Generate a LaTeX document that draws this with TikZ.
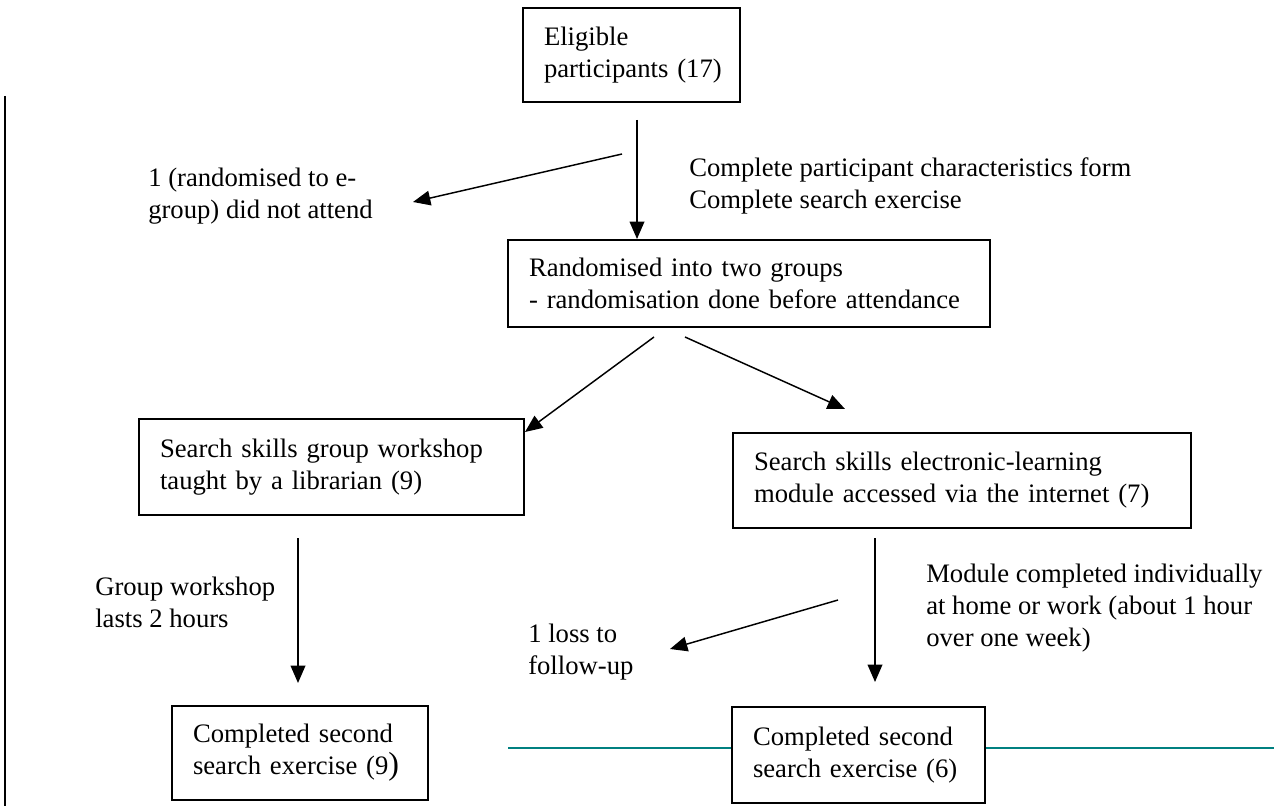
\documentclass[tikz,border=0pt]{standalone}
\usepackage{fontspec}
\setmainfont{Liberation Serif}
\usetikzlibrary{arrows.meta}
\definecolor{tealline}{RGB}{0,128,128}
\begin{document}
\begin{tikzpicture}[x=0.75pt,y=-0.75pt,
  every node/.style={font=\fontsize{20}{24}\selectfont},
  box/.style={draw, line width=1.1pt, fill=white, align=left, inner xsep=21*0.75pt, inner ysep=0pt},
  lbl/.style={align=left, anchor=west, inner sep=0pt},
  arr/.style={line width=1.1pt, -{Triangle[length=13pt,width=11pt]}}]
\useasboundingbox (0,0) rectangle (1274,806);
% page decorations
\draw[line width=1.9pt] (5,96) -- (5,806);
\draw[tealline, line width=1.5pt] (508,748) -- (1274,748);
% boxes
\node[box, text width=(217-42)*0.75pt, minimum height=94*0.75pt] (b1) at (631.5,55)
  {\mbox{Eligible}\\\mbox{participants (17)}};
\node[box, text width=(482-42)*0.75pt, minimum height=87*0.75pt] (b2) at (749,283.5)
  {\mbox{Randomised into two groups}\\\mbox{- randomisation done before attendance}};
\node[box, text width=(385-42)*0.75pt, minimum height=96*0.75pt] (b3) at (331.5,467)
  {\mbox{Search skills group workshop}\\\mbox{taught by a librarian (9)}};
\node[box, text width=(458-42)*0.75pt, minimum height=95*0.75pt] (b4) at (962,480.5)
  {\mbox{Search skills electronic-learning}\\\mbox{module accessed via the internet (7)}};
\node[box, text width=(256-42)*0.75pt, minimum height=94*0.75pt] (b5) at (300,753)
  {\mbox{Completed second}\\\mbox{search exercise (9{\fontsize{24}{24}\selectfont )}}};
\node[box, text width=(253-42)*0.75pt, minimum height=96*0.75pt] (b6) at (858.5,755)
  {\mbox{Completed second}\\\mbox{search exercise (6)}};
% free labels
\node[lbl] (l1) at (148,196.5) {1 (randomised to e-\\group) did not attend};
\node[lbl] (l2) at (689,186) {Complete participant characteristics form\\Complete search exercise};
\node[lbl] (l3) at (95,602.5) {Group workshop\\lasts 2 hours};
\node[lbl] (l4) at (926,608) {Module completed individually\\at home or work (about 1 hour\\over one week)};
\node[lbl] (l5) at (528,652) {1 loss to\\follow-up};
% connector end points
\coordinate (a1s) at (637,120);  \coordinate (a1e) at (637,239);
\coordinate (a2s) at (622,154);  \coordinate (a2e) at (413,202);
\coordinate (a3s) at (654,337);  \coordinate (a3e) at (525,432);
\coordinate (a4s) at (685,337);  \coordinate (a4e) at (845,409);
\coordinate (a5s) at (298,538);  \coordinate (a5e) at (298,683);
\coordinate (a6s) at (875,538);  \coordinate (a6e) at (875,682);
\coordinate (a7s) at (838,600);  \coordinate (a7e) at (670,649);
% connectors
\draw[arr] (a1s) -- (a1e);
\draw[arr] (a2s) -- (a2e);
\draw[arr] (a3s) -- (a3e);
\draw[arr] (a4s) -- (a4e);
\draw[arr] (a5s) -- (a5e);
\draw[arr] (a6s) -- (a6e);
\draw[arr] (a7s) -- (a7e);
\end{tikzpicture}
\end{document}
